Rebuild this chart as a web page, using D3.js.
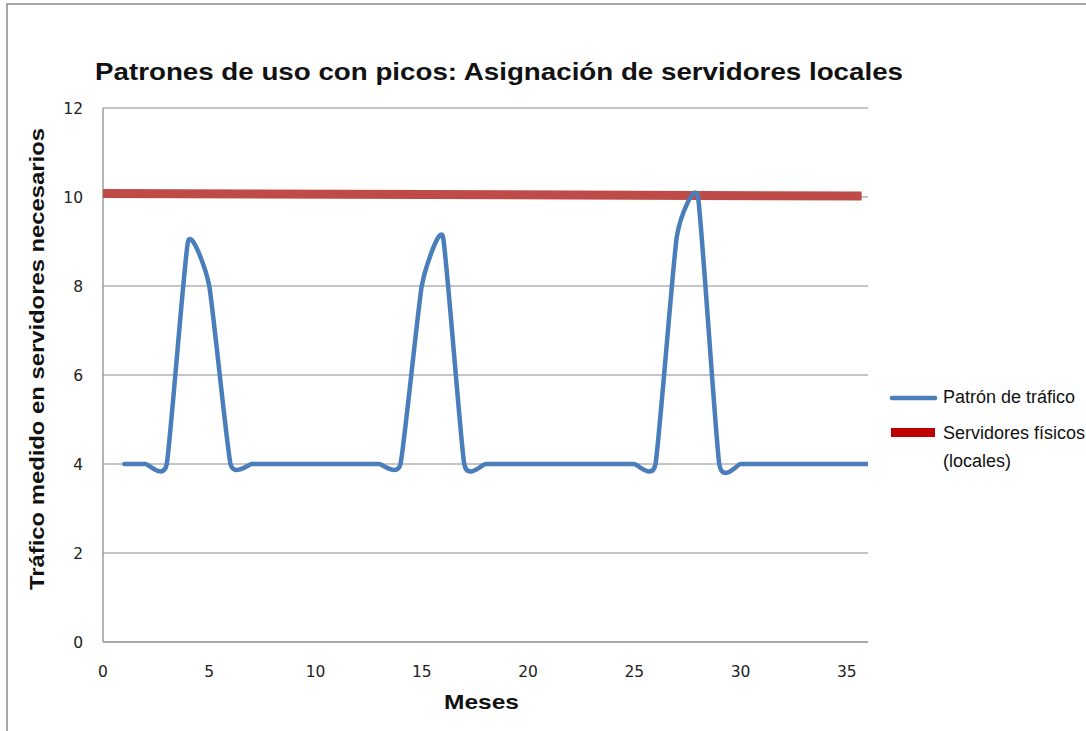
<!DOCTYPE html>
<html>
<head>
    <meta charset="utf-8">
    <title>Patrones de uso con picos</title>
    <script src="https://d3js.org/d3.v7.min.js"></script>
</head>
<style>
    body { margin: 0; background: white; }
    .tick-label { font-family: "DejaVu Sans", sans-serif; font-size: 15.5px; fill: #222; }
    .legend-text { font-family: "Liberation Sans", Arial, sans-serif; font-size: 18px; fill: #111; }
</style>
<body>
<div id="chart"></div>
<script>
    // Datos: meses y tráfico medido
    var months = [1, 2, 3, 4, 5, 6, 7, 8, 9, 10, 11, 12, 13, 14, 15, 16, 17, 18,
                  19, 20, 21, 22, 23, 24, 25, 26, 27, 28, 29, 30, 31, 32, 33, 34, 35, 36];
    var traffic = [4, 4, 4, 9, 8, 4, 4, 4, 4, 4, 4, 4, 4, 4, 8, 9.1, 4, 4,
                   4, 4, 4, 4, 4, 4, 4, 4, 9.1, 10, 4, 4, 4, 4, 4, 4, 4, 4];
    var serverMonths = [0, 35.7];
    var servers = [10.08, 10.02];
    var xTicks = [0, 5, 10, 15, 20, 25, 30, 35];
    var yTicks = [0, 2, 4, 6, 8, 10, 12];
    var seriesNames = ["Patrón de tráfico", "Servidores físicos", "(locales)"];

    var width = 1086, height = 731;
    var svg = d3.select("#chart").append("svg")
        .attr("width", width)
        .attr("height", height);

    // marco exterior
    svg.append("rect")
        .attr("x", 7).attr("y", 4)
        .attr("width", 1100).attr("height", 760)
        .attr("fill", "none")
        .attr("stroke", "#8c8c8c")
        .attr("stroke-width", 1.5);

    var x = d3.scaleLinear().domain([0, 36]).range([103, 868]);
    var y = d3.scaleLinear().domain([0, 12]).range([642, 108]);

    // lineas de cuadricula
    svg.selectAll(".grid")
        .data(yTicks.filter(d => d > 0))
        .enter().append("line")
        .attr("x1", x(0)).attr("x2", x(36))
        .attr("y1", d => y(d)).attr("y2", d => y(d))
        .attr("stroke", "#8c8c8c")
        .attr("stroke-width", 1);

    // ejes
    svg.append("line")
        .attr("x1", x(0)).attr("x2", x(0))
        .attr("y1", y(0)).attr("y2", y(12))
        .attr("stroke", "#8c8c8c").attr("stroke-width", 1.3);
    svg.append("line")
        .attr("x1", x(0)).attr("x2", x(36))
        .attr("y1", y(0)).attr("y2", y(0))
        .attr("stroke", "#8c8c8c").attr("stroke-width", 1.3);

    svg.selectAll(".ylab")
        .data(yTicks)
        .enter().append("text")
        .attr("class", "tick-label")
        .attr("x", 83)
        .attr("y", d => y(d) + 5.5)
        .attr("text-anchor", "end")
        .text(d => d);

    svg.selectAll(".xlab")
        .data(xTicks)
        .enter().append("text")
        .attr("class", "tick-label")
        .attr("x", d => x(d))
        .attr("y", 677)
        .attr("text-anchor", "middle")
        .text(d => d);

    // titulos
    svg.append("text")
        .attr("x", 95).attr("y", 80)
        .attr("textLength", 808)
        .attr("lengthAdjust", "spacingAndGlyphs")
        .style("font-family", "Liberation Sans, Arial, sans-serif")
        .style("font-weight", "bold")
        .style("font-size", "24.5px")
        .attr("fill", "#111")
        .text("Patrones de uso con picos: Asignación de servidores locales");

    svg.append("text")
        .attr("x", 444).attr("y", 709)
        .attr("textLength", 75)
        .attr("lengthAdjust", "spacingAndGlyphs")
        .style("font-family", "Liberation Sans, Arial, sans-serif")
        .style("font-weight", "bold")
        .style("font-size", "21px")
        .attr("fill", "#111")
        .text("Meses");

    svg.append("text")
        .attr("transform", "translate(44,590) rotate(-90)")
        .attr("textLength", 462)
        .attr("lengthAdjust", "spacingAndGlyphs")
        .style("font-family", "Liberation Sans, Arial, sans-serif")
        .style("font-weight", "bold")
        .style("font-size", "21px")
        .attr("fill", "#111")
        .text("Tráfico medido en servidores necesarios");

    // series
    svg.append("clipPath").attr("id", "plot")
        .append("rect")
        .attr("x", x(0)).attr("y", y(12) - 20)
        .attr("width", x(36) - x(0)).attr("height", y(0) - y(12) + 20);

    // suavizado tipo Excel
    var trafficLine = d3.line()
        .x((d, i) => x(months[i]))
        .y(d => y(d))
        .curve(d3.curveCardinal.tension(0.55));

    svg.append("path")
        .datum(servers)
        .attr("d", d3.line().x((d, i) => x(serverMonths[i])).y(d => y(d)))
        .attr("fill", "none")
        .attr("stroke", "#be4b48")
        .attr("stroke-width", 9);

    svg.append("path")
        .datum(traffic)
        .attr("clip-path", "url(#plot)")
        .attr("d", trafficLine)
        .attr("fill", "none")
        .attr("stroke", "#4a7ebb")
        .attr("stroke-width", 4.5)
        .attr("stroke-linejoin", "round")
        .attr("stroke-linecap", "round");

    // leyenda
    svg.append("line")
        .attr("x1", 892).attr("x2", 935)
        .attr("y1", 398).attr("y2", 398)
        .attr("stroke", "#4a7ebb").attr("stroke-width", 4.5)
        .attr("stroke-linecap", "round");
    svg.append("rect")
        .attr("x", 891).attr("y", 428)
        .attr("width", 44).attr("height", 9)
        .attr("fill", "#c00000");

    svg.append("text").attr("class", "legend-text")
        .attr("x", 943).attr("y", 403).text(seriesNames[0]);
    svg.append("text").attr("class", "legend-text")
        .attr("x", 943).attr("y", 439).text(seriesNames[1]);
    svg.append("text").attr("class", "legend-text")
        .attr("x", 943).attr("y", 467).text(seriesNames[2]);
</script>
</body>
</html>
